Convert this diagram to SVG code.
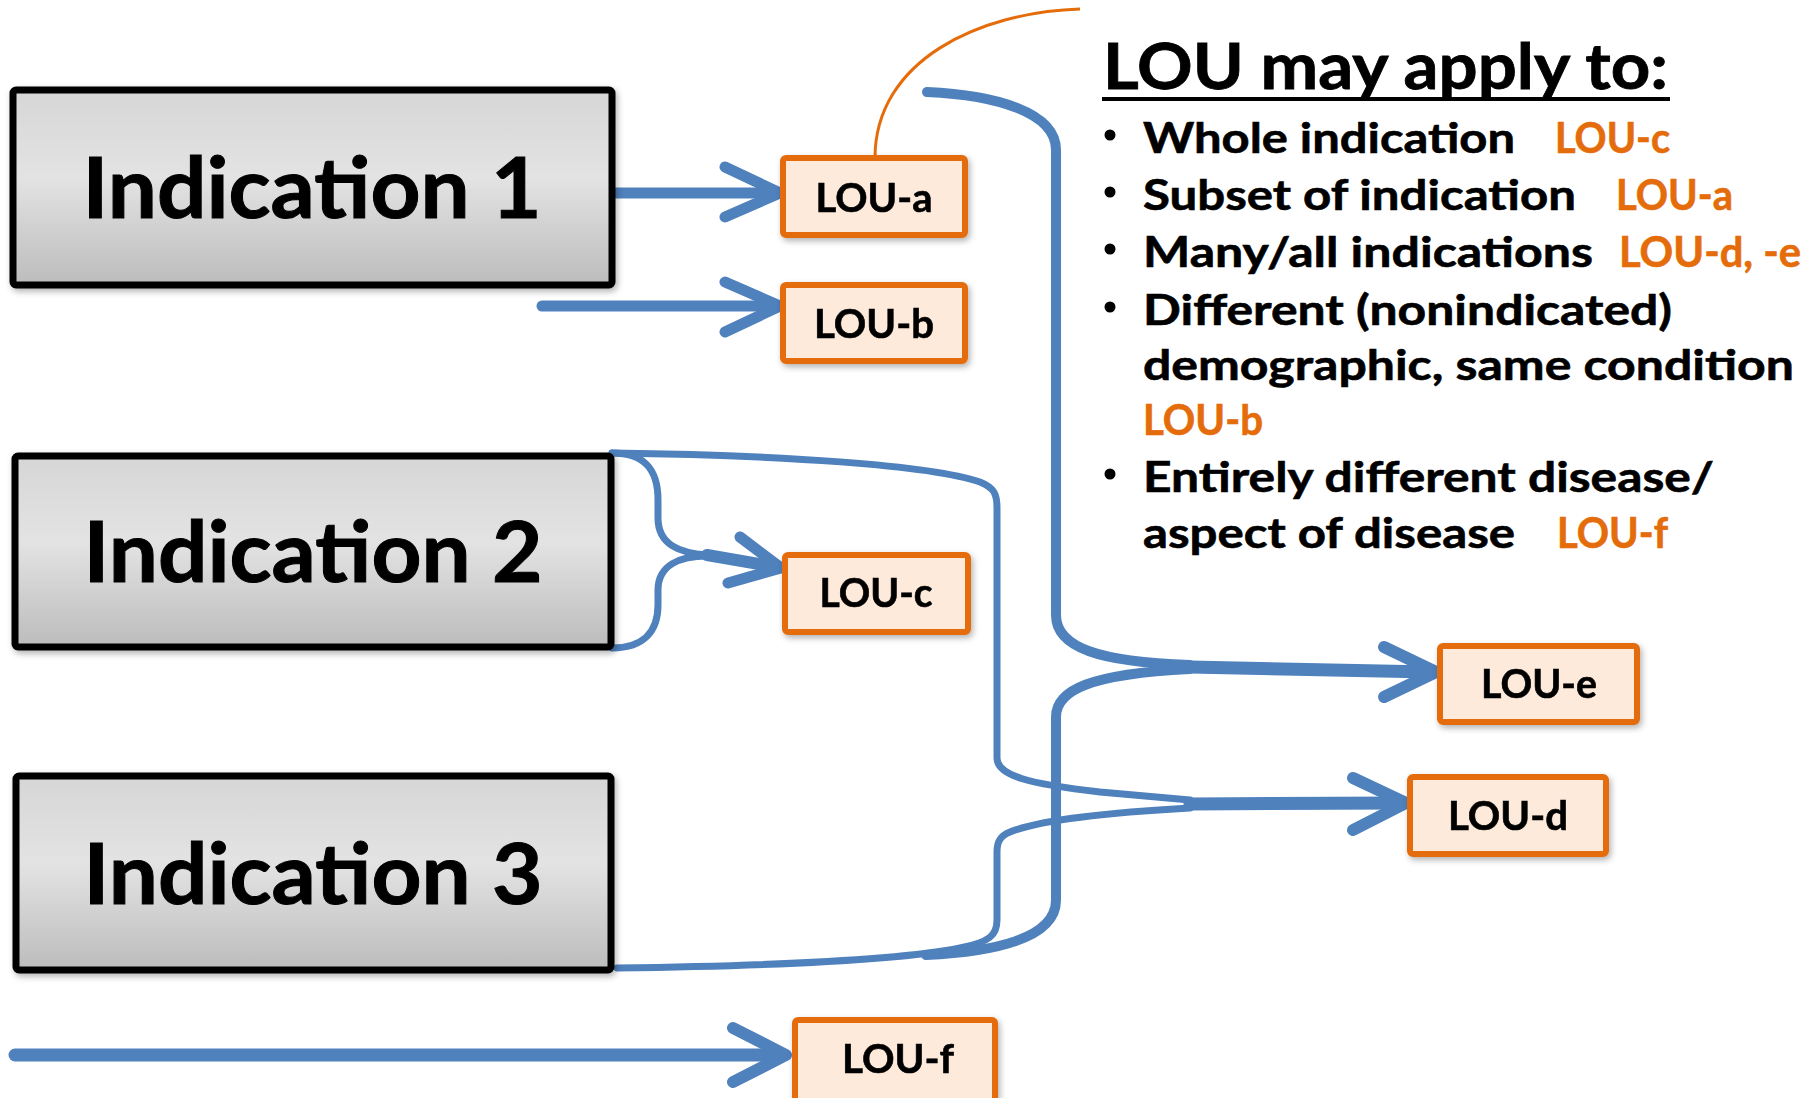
<svg xmlns="http://www.w3.org/2000/svg" width="1814" height="1098" viewBox="0 0 1814 1098">
<style>
.ind rect{fill:url(#g);stroke:#000;stroke-width:7}
.ind text{font-family:Lato,"Open Sans",sans-serif;font-weight:bold;font-size:84px;fill:#000;text-anchor:middle;stroke:#000;stroke-width:1}
.lou rect{fill:#FDEADA;stroke:#E46C0A;stroke-width:6}
.lou text{font-family:Lato,"Open Sans",sans-serif;font-weight:bold;font-size:40px;fill:#000;text-anchor:middle;stroke:#000;stroke-width:0.6}
.c{fill:none;stroke:#4F81BD;stroke-linecap:round;stroke-linejoin:round}
.t{font-family:Lato,"Open Sans",sans-serif;font-weight:bold;font-size:42px;fill:#000;stroke:#000;stroke-width:0.6}
.title{font-family:Lato,"Open Sans",sans-serif;font-weight:bold;font-size:64px;fill:#000;stroke:#000;stroke-width:0.8}
.o{fill:#E46C0A;stroke:#E46C0A}
</style>
<defs>
<linearGradient id="g" x1="0" y1="0" x2="0" y2="1">
<stop offset="0" stop-color="#d6d6d6"/>
<stop offset="0.45" stop-color="#e3e3e3"/>
<stop offset="1" stop-color="#bcbcbc"/>
</linearGradient>
<filter id="sh" x="-10%" y="-10%" width="120%" height="130%">
<feDropShadow dx="2" dy="3" stdDeviation="3" flood-color="#000" flood-opacity="0.3"/>
</filter>
</defs>
<rect width="1814" height="1098" fill="#fff"/>

<g id="connectors">
<path d="M875,158 C875,60 980,12 1080,9" fill="none" stroke="#E46C0A" stroke-width="3"/>
<path class="c" stroke-width="11" d="M616,193 L774,193"/>
<polyline class="c" stroke-width="11" points="725,167 780,193 725,217"/>
<path class="c" stroke-width="11" d="M542,306 L774,306"/>
<polyline class="c" stroke-width="11" points="725,282 780,306 725,332"/>
<path class="c" stroke-width="7" d="M612,453 C645,453 658,470 658,500 L658,518 C658,545 680,553 707,555"/>
<path class="c" stroke-width="7" d="M612,648 C645,648 658,630 658,605 L658,590 C658,565 680,556 707,556"/>
<path class="c" stroke-width="12" d="M707,555 L776,567"/>
<polyline class="c" stroke-width="11" points="740,537 781,568 728,583"/>
<path class="c" stroke-width="7" d="M612,453 C780,455 930,465 980,482 C995,488 997,495 997,508 L997,758 C997,776 1030,784 1100,792 L1190,800"/>
<path class="c" stroke-width="7" d="M1190,808 C1100,813 1040,820 1010,832 C1000,836 997,842 997,852 L997,920 C997,935 990,942 960,948 C900,960 760,966 617,968"/>
<path class="c" stroke-width="13" d="M1190,804 L1400,803"/>
<polyline class="c" stroke-width="12" points="1353,778 1406,803 1353,830"/>
<path class="c" stroke-width="10" d="M927,92 C995,95 1056,112 1056,150 L1056,615 C1056,648 1100,662 1190,665"/>
<path class="c" stroke-width="10" d="M926,955 C990,952 1056,940 1056,900 L1056,717 C1056,690 1090,674 1190,669"/>
<path class="c" stroke-width="13" d="M1190,667 L1430,672"/>
<polyline class="c" stroke-width="12" points="1384,647 1436,672 1384,697"/>
<path class="c" stroke-width="13" d="M15,1055 L780,1055"/>
<polyline class="c" stroke-width="12" points="733,1028 786,1055 733,1082"/>
</g>

<g id="ind1" class="ind" filter="url(#sh)"><rect x="13" y="90" width="599" height="195" rx="3"/><text x="312" y="218" textLength="459" lengthAdjust="spacingAndGlyphs">Indication 1</text></g>
<g id="ind2" class="ind" filter="url(#sh)"><rect x="15" y="456" width="596" height="191" rx="3"/><text x="313" y="582" textLength="459" lengthAdjust="spacingAndGlyphs">Indication 2</text></g>
<g id="ind3" class="ind" filter="url(#sh)"><rect x="16" y="776" width="595" height="194" rx="3"/><text x="313" y="904" textLength="459" lengthAdjust="spacingAndGlyphs">Indication 3</text></g>

<g id="lou-a" class="lou" filter="url(#sh)"><rect x="783" y="158" width="182" height="77" rx="3"/><text x="874" y="212" textLength="117" lengthAdjust="spacingAndGlyphs">LOU-a</text></g>
<g id="lou-b" class="lou" filter="url(#sh)"><rect x="783" y="285" width="182" height="76" rx="3"/><text x="874" y="338" textLength="120" lengthAdjust="spacingAndGlyphs">LOU-b</text></g>
<g id="lou-c" class="lou" filter="url(#sh)"><rect x="785" y="555" width="183" height="77" rx="3"/><text x="876" y="607" textLength="113" lengthAdjust="spacingAndGlyphs">LOU-c</text></g>
<g id="lou-e" class="lou" filter="url(#sh)"><rect x="1440" y="646" width="197" height="76" rx="3"/><text x="1539" y="698" textLength="116" lengthAdjust="spacingAndGlyphs">LOU-e</text></g>
<g id="lou-d" class="lou" filter="url(#sh)"><rect x="1410" y="777" width="196" height="77" rx="3"/><text x="1508" y="830" textLength="120" lengthAdjust="spacingAndGlyphs">LOU-d</text></g>
<g id="lou-f" class="lou" filter="url(#sh)"><rect x="795" y="1020" width="200" height="92" rx="3"/><text x="898" y="1073" textLength="112" lengthAdjust="spacingAndGlyphs">LOU-f</text></g>

<g id="legend">
<text class="title" x="1103" y="89" textLength="565" lengthAdjust="spacingAndGlyphs">LOU may apply to:</text>
<line x1="1102" y1="99" x2="1670" y2="99" stroke="#000" stroke-width="4"/>
<circle cx="1110" cy="135" r="5.5"/>
<circle cx="1110" cy="192" r="5.5"/>
<circle cx="1110" cy="249" r="5.5"/>
<circle cx="1110" cy="307" r="5.5"/>
<circle cx="1110" cy="474" r="5.5"/>
<text class="t" x="1143" y="153" textLength="372" lengthAdjust="spacingAndGlyphs">Whole indication</text>
<text class="t o" x="1555" y="153" textLength="115" lengthAdjust="spacingAndGlyphs">LOU-c</text>
<text class="t" x="1143" y="210" textLength="433" lengthAdjust="spacingAndGlyphs">Subset of indication</text>
<text class="t o" x="1616" y="210" textLength="117" lengthAdjust="spacingAndGlyphs">LOU-a</text>
<text class="t" x="1143" y="267" textLength="450" lengthAdjust="spacingAndGlyphs">Many/all indications</text>
<text class="t o" x="1619" y="267" textLength="182" lengthAdjust="spacingAndGlyphs">LOU-d, -e</text>
<text class="t" x="1143" y="325" textLength="529" lengthAdjust="spacingAndGlyphs">Different (nonindicated)</text>
<text class="t" x="1143" y="380" textLength="651" lengthAdjust="spacingAndGlyphs">demographic, same condition</text>
<text class="t o" x="1143" y="435" textLength="120" lengthAdjust="spacingAndGlyphs">LOU-b</text>
<text class="t" x="1143" y="492" textLength="571" lengthAdjust="spacingAndGlyphs">Entirely different disease/</text>
<text class="t" x="1143" y="548" textLength="372" lengthAdjust="spacingAndGlyphs">aspect of disease</text>
<text class="t o" x="1557" y="548" textLength="111" lengthAdjust="spacingAndGlyphs">LOU-f</text>
</g>
</svg>
